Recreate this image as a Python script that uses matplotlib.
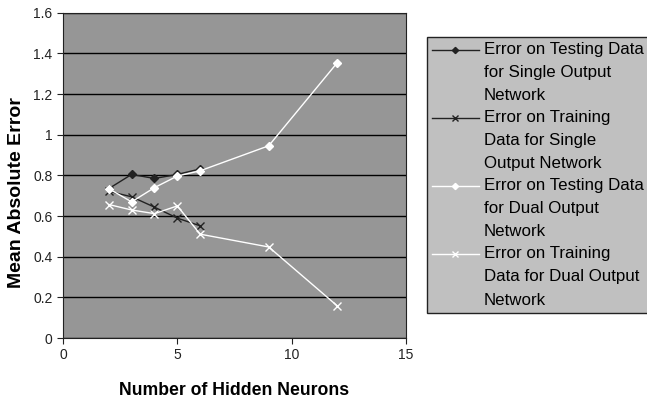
import matplotlib.pyplot as plt
from matplotlib.legend_handler import HandlerLine2D

plt.rcParams['font.family'] = ['Liberation Sans', 'DejaVu Sans']

# Hidden neuron counts and mean absolute errors
neurons_single = [2, 3, 4, 5, 6]
neurons_dual = [2, 3, 4, 5, 6, 9, 12]
test_single = [0.735, 0.805, 0.785, 0.805, 0.832]
train_single = [0.722, 0.695, 0.644, 0.590, 0.552]
test_dual = [0.735, 0.670, 0.740, 0.797, 0.823, 0.946, 1.355]
train_dual = [0.657, 0.630, 0.612, 0.650, 0.511, 0.448, 0.158]

labels = [
    "Error on Testing Data\nfor Single Output\nNetwork",
    "Error on Training\nData for Single\nOutput Network",
    "Error on Testing Data\nfor Dual Output\nNetwork",
    "Error on Training\nData for Dual Output\nNetwork",
]


class FirstLineHandler(HandlerLine2D):
    # put the legend key next to the first line of a 3-line label
    def create_artists(self, *args, **kwargs):
        artists = super().create_artists(*args, **kwargs)
        for a in artists:
            a.set_ydata([y + 16.3 for y in a.get_ydata()])
        return artists


fig = plt.figure(figsize=(6.47, 4.01), dpi=100)
ax = fig.add_axes([0.0974, 0.157, 0.530, 0.811])
ax.set_facecolor('#969696')

ax.plot(neurons_single, test_single, color='#222222', lw=1, marker='D', ms=4.5,
        label=labels[0])
ax.plot(neurons_single, train_single, color='#222222', lw=1, marker='x', ms=6,
        mew=1, label=labels[1])
ax.plot(neurons_dual, test_dual, color='white', lw=1, marker='D', ms=4.5,
        label=labels[2])
ax.plot(neurons_dual, train_dual, color='white', lw=1, marker='x', ms=6,
        mew=1, label=labels[3])

ax.set_xlim(0, 15)
ax.set_ylim(0, 1.6)
ax.set_xticks([0, 5, 10, 15])
ax.set_yticks([0, 0.2, 0.4, 0.6, 0.8, 1, 1.2, 1.4, 1.6])
ax.set_yticklabels(['0', '0.2', '0.4', '0.6', '0.8', '1', '1.2', '1.4', '1.6'])
ax.yaxis.grid(True, color='black', lw=1)
ax.set_axisbelow(True)
ax.tick_params(direction='out', labelsize=10, colors='#222222', length=4)
for s in ax.spines.values():
    s.set_color('#222222')

ax.set_xlabel("Number of Hidden Neurons", fontsize=12.7, fontweight='bold',
              labelpad=14)
ax.set_ylabel("Mean Absolute Error", fontsize=14, fontweight='bold')
ax.yaxis.set_label_coords(-0.11, 0.446)

leg = fig.legend(loc='upper left', bbox_to_anchor=(0.66, 0.908), fontsize=12.2,
                 frameon=True, fancybox=False, handlelength=2.75,
                 handletextpad=0.3, borderpad=0.3, labelspacing=0.4,
                 borderaxespad=0, markerscale=0.7,
                 handler_map={plt.Line2D: FirstLineHandler()})
for t in leg.get_texts():
    t.set_linespacing(1.68)
leg.get_frame().set_facecolor('#c0c0c0')
leg.get_frame().set_edgecolor('#222222')
leg.get_frame().set_alpha(1)

plt.savefig("out.png", dpi=100)
